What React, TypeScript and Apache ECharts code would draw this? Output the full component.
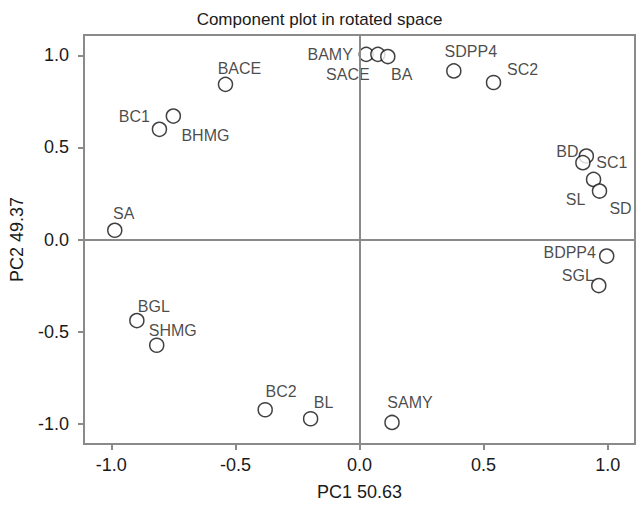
import React, { useEffect, useRef } from "react";
import * as echarts from "echarts";

const names = ["BAMY", "SACE", "BA", "SDPP4", "SC2", "BD", "SC1", "SL", "SD", "BDPP4", "SGL", "BACE", "BC1", "BHMG", "SA", "BGL", "SHMG", "BC2", "BL", "SAMY"];
const pc1 = [0.027, 0.074, 0.114, 0.38, 0.54, 0.914, 0.9, 0.943, 0.967, 0.996, 0.964, -0.54, -0.75, -0.806, -0.986, -0.897, -0.817, -0.38, -0.197, 0.131];
const pc2 = [1.005, 1.005, 0.993, 0.915, 0.852, 0.453, 0.417, 0.326, 0.263, -0.09, -0.25, 0.842, 0.67, 0.598, 0.05, -0.44, -0.574, -0.924, -0.973, -0.993];
// label offsets (px) relative to each marker
const labelDx = [-36, -30, 14, 17, 29, -19, 29, -18, 21, -37, -21, 14, -39, 46, 9, 17, 16, 16, 13, 18];
const labelDy = [0, 20, 18, -19, -13, -5, 0, 20, 17, -4, -10, -16, 0, 6, -17, -14, -15, -18, -16, -20];
const tickValues = [-1, -0.5, 0, 0.5, 1];

const FONT = "Liberation Sans, Arial, sans-serif";
const AXIS_GRAY = "#8a8a8a";

export default function App() {
  const ref = useRef<HTMLDivElement>(null);
  useEffect(() => {
    document.body.style.margin = "0";
    if (!ref.current) return;
    const chart = echarts.init(ref.current, null, { renderer: "svg" });
    const data = names.map((n, i) => ({
      name: n,
      value: [pc1[i], pc2[i]],
      label: { offset: [labelDx[i], labelDy[i]] },
    }));
    const axisCommon = {
      type: "value" as const,
      min: -1.11,
      max: 1.11,
      splitLine: { show: false },
      axisLine: { show: true, onZero: false, lineStyle: { color: AXIS_GRAY, width: 2 } },
      axisTick: { show: true, length: 6, customValues: tickValues, lineStyle: { color: AXIS_GRAY, width: 2 } },
      nameTextStyle: { fontFamily: FONT, fontSize: 18, color: "#1a1a1a" },
    };
    chart.setOption({
      animation: false,
      backgroundColor: "#ffffff",
      title: {
        text: "Component plot in rotated space",
        left: "center",
        top: 6,
        textStyle: { fontFamily: FONT, fontSize: 17, fontWeight: "normal", color: "#1a1a1a" },
      },
      grid: {
        left: 82,
        right: 4,
        top: 35,
        bottom: 64,
        show: true,
        borderColor: AXIS_GRAY,
        borderWidth: 2,
        backgroundColor: "#ffffff",
      },
      xAxis: {
        ...axisCommon,
        name: "PC1 50.63",
        nameLocation: "middle",
        nameGap: 39,
        axisLabel: {
          customValues: tickValues,
          margin: 12,
          fontFamily: FONT,
          fontSize: 18,
          color: "#1a1a1a",
          formatter: (v: number) => v.toFixed(1),
        },
      },
      yAxis: {
        ...axisCommon,
        name: "PC2 49.37",
        nameLocation: "middle",
        nameGap: 58,
        axisLabel: {
          customValues: tickValues,
          margin: 15,
          fontFamily: FONT,
          fontSize: 18,
          color: "#1a1a1a",
          formatter: (v: number) => v.toFixed(1),
        },
      },
      series: [
        {
          type: "scatter",
          data,
          symbol: "circle",
          symbolSize: 14,
          itemStyle: { color: "#ffffff", borderColor: "#111", borderWidth: 1.5 },
          label: {
            show: true,
            position: "inside",
            align: "center",
            verticalAlign: "middle",
            formatter: "{b}",
            fontFamily: FONT,
            fontSize: 16,
            color: "#1a1a1a",
          },
          markLine: {
            silent: true,
            symbol: "none",
            label: { show: false },
            lineStyle: { color: AXIS_GRAY, width: 2, type: "solid" },
            data: [{ xAxis: 0 }, { yAxis: 0 }],
          },
          z: 3,
        },
      ],
    });
    return () => chart.dispose();
  }, []);
  return <div ref={ref} style={{ width: 639, height: 508 }} />;
}
